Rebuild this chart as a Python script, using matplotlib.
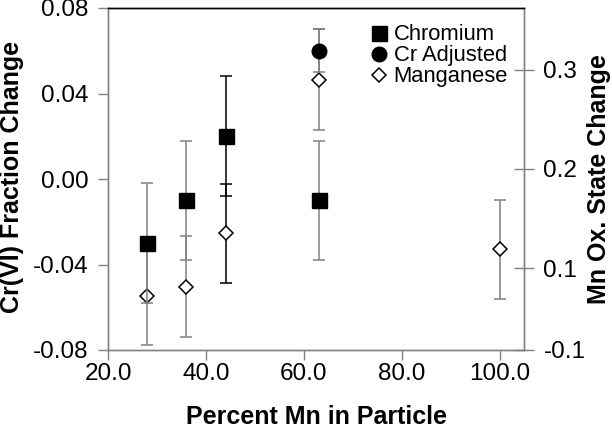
import matplotlib
matplotlib.use("Agg")
import matplotlib.pyplot as plt
from matplotlib.lines import Line2D

plt.rcParams['font.family'] = ['Liberation Sans', 'DejaVu Sans']

# ---- data ----
cr_x = [28, 36, 44, 63]
cr_y = [-0.030, -0.010, 0.020, -0.010]
cr_err = [0.028, 0.028, 0.028, 0.028]

adj_x = [63]
adj_y = [0.060]
adj_err = [0.010]

mn_x = [28, 36, 44, 63, 100]
mn_y = [0.072, 0.081, 0.135, 0.290, 0.119]
mn_err = [0.050, 0.051, 0.050, 0.051, 0.050]

x_ticks = [20, 40, 60, 80, 100]
x_ticklabels = ['20.0', '40.0', '60.0', '80.0', '100.0']
yl_ticks = [-0.08, -0.04, 0.0, 0.04, 0.08]
yl_ticklabels = ['-0.08', '-0.04', '0.00', '0.04', '0.08']
yr_lim = (0.0172, 0.3626)
yr_ticks = [0.0172, 0.1, 0.2, 0.3]
yr_ticklabels = ['-0.1', '0.1', '0.2', '0.3']

# error-bar colours per point (style)
cr_ecol = ['#808080', '#808080', 'black', '#808080']
mn_ecol = ['#808080', '#808080', 'black', '#808080', '#808080']

GRAY = '#808080'
FS_TICK = 17.5
FS_LAB = 18
FS_LEG = 15.8

fig = plt.figure(figsize=(6.12, 4.30), dpi=100)
W, H = 612, 430
L, R, T, B = 108, 524, 8, 350
ax = fig.add_axes([L / W, 1 - B / H, (R - L) / W, (B - T) / H])
ax2 = ax.twinx()

ax.set_xlim(20, 104.9)
ax.set_ylim(-0.08, 0.08)
ax2.set_ylim(*yr_lim)

# error bars
for xi, yi, ei, c in zip(cr_x, cr_y, cr_err, cr_ecol):
    ax.errorbar([xi], [yi], yerr=[ei], fmt='none', ecolor=c, elinewidth=1.1,
                capsize=4, capthick=1.1, zorder=2)
for xi, yi, ei, c in zip(mn_x, mn_y, mn_err, mn_ecol):
    ax2.errorbar([xi], [yi], yerr=[ei], fmt='none', ecolor=c, elinewidth=1.1,
                 capsize=4, capthick=1.1, zorder=2)
ax.errorbar(adj_x, adj_y, yerr=adj_err, fmt='none', ecolor=GRAY, elinewidth=1.1,
            capsize=4, capthick=1.1, zorder=2)

# markers
ax.plot(cr_x, cr_y, 's', color='black', markersize=10.8, zorder=3, linestyle='none')
ax.plot(adj_x, adj_y, 'o', color='black', markersize=10.5, zorder=3, linestyle='none')
ax2.plot(mn_x, mn_y, 'D', markerfacecolor='white', markeredgecolor='black',
         markeredgewidth=1.1, markersize=7.6, zorder=3, linestyle='none')

# spines
for a in (ax, ax2):
    a.spines['left'].set_color(GRAY)
    a.spines['bottom'].set_color(GRAY)
    a.spines['right'].set_color(GRAY)
    a.spines['top'].set_color('black')
    for s in a.spines.values():
        s.set_linewidth(1.0)
ax.set_zorder(ax2.get_zorder() + 1)
ax.patch.set_visible(False)

ax.set_xticks(x_ticks)
ax.set_xticklabels(x_ticklabels, fontsize=FS_TICK)
ax.set_yticks(yl_ticks)
ax.set_yticklabels(yl_ticklabels, fontsize=FS_TICK)
ax2.set_yticks(yr_ticks)
ax2.set_yticklabels(yr_ticklabels, fontsize=FS_TICK)

ax.tick_params(axis='x', direction='out', length=7, width=1, color=GRAY, pad=2)
ax.tick_params(axis='y', direction='out', length=7, width=1, color=GRAY, pad=7)
ax2.tick_params(axis='y', direction='inout', length=14, width=1, color=GRAY, pad=7)

ax.set_xlabel('Percent Mn in Particle', fontsize=FS_LAB, fontweight='bold')
ax.xaxis.set_label_coords(0.5, -0.16)
ax.set_ylabel('Cr(VI) Fraction Change', fontsize=FS_LAB, fontweight='bold', va='center')
ax.yaxis.set_label_coords(-0.231, 0.506)
ax2.set_ylabel('Mn Ox. State Change', fontsize=FS_LAB, fontweight='bold', va='center',
               rotation=90)
ax2.yaxis.set_label_coords(1.18, 0.5)

handles = [
    Line2D([], [], marker='s', color='black', linestyle='none', markersize=10.8),
    Line2D([], [], marker='o', color='black', linestyle='none', markersize=10.5),
    Line2D([], [], marker='D', markerfacecolor='white', markeredgecolor='black',
           markeredgewidth=1.1, linestyle='none', markersize=7.6),
]
ax.legend(handles, ['Chromium', 'Cr Adjusted', 'Manganese'], loc='upper left',
          bbox_to_anchor=(0.596, 0.997), frameon=False, fontsize=FS_LEG,
          handlelength=0.7, handletextpad=0.32, labelspacing=0.0, borderpad=0.2)

fig.savefig('out.png', dpi=100)
